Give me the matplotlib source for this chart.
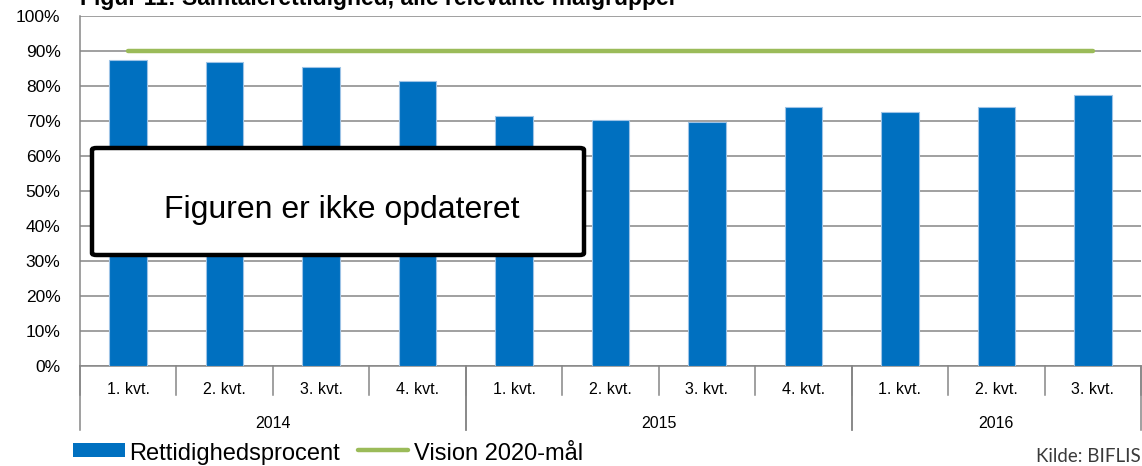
import numpy as np
import matplotlib.pyplot as plt
from matplotlib.patches import Rectangle, FancyBboxPatch
from matplotlib.lines import Line2D
import matplotlib.transforms as mtransforms

plt.rcParams['font.family'] = ['Liberation Sans', 'DejaVu Sans']

# data
quarters = ['1. kvt.', '2. kvt.', '3. kvt.', '4. kvt.',
            '1. kvt.', '2. kvt.', '3. kvt.', '4. kvt.',
            '1. kvt.', '2. kvt.', '3. kvt.']
years = ['2014', '2015', '2016']
year_counts = [4, 4, 3]
rettidighed = [87.5, 86.9, 85.3, 81.5, 71.4, 70.4, 69.8, 74.1, 72.5, 74.1, 77.4]
vision_2020 = [90] * len(quarters)

W, H = 1142, 466
fig = plt.figure(figsize=(W / 100, H / 100), dpi=100)

def fx(px):
    return px / W

def fy(py):
    return 1 - py / H

ax = fig.add_axes([fx(80), fy(366), fx(1141) - fx(80), fy(16) - fy(366)])

x = np.arange(len(quarters))
ax.bar(x, rettidighed, width=0.39, color='#0070C0', edgecolor='#9DC3E6',
       linewidth=0.8, zorder=3)
ax.plot(x, vision_2020, color='#9BBB59', lw=3.2, solid_capstyle='round', zorder=4)

ax.set_xlim(-0.5, len(quarters) - 0.5)
ax.set_ylim(0, 100)
ax.set_yticks(np.arange(0, 101, 10))
ax.set_yticklabels([f'{v}%' for v in range(0, 101, 10)], fontsize=12.5)
ax.tick_params(axis='y', length=0, pad=14)
ax.set_xticks([])
ax.grid(axis='y', color='#868686', lw=1.1, zorder=0)
for s in ['top', 'right']:
    ax.spines[s].set_visible(False)
ax.spines['left'].set_color('#868686')
ax.spines['left'].set_linewidth(1.1)
ax.spines['bottom'].set_color('#868686')
ax.spines['bottom'].set_linewidth(1.1)

# category axis: quarters and years
trans = mtransforms.blended_transform_factory(ax.transData, ax.transAxes)
ah = 350.0
for i, q in enumerate(quarters):
    ax.text(i, -23 / ah, q, transform=trans, ha='center', va='center', fontsize=11.5)
for b in np.arange(-0.5, len(quarters), 1.0):
    ax.add_line(Line2D([b, b], [0, -29 / ah], transform=trans, color='#868686',
                       lw=1.1, clip_on=False))
start = 0
for yr, n in zip(years, year_counts):
    ax.text(start + (n - 1) / 2, -57 / ah, yr, transform=trans, ha='center',
            va='center', fontsize=11.5)
    for b in [start - 0.5, start + n - 0.5]:
        ax.add_line(Line2D([b, b], [0, -64 / ah], transform=trans, color='#868686',
                           lw=1.1, clip_on=False))
    start += n

# title (cut at top as in the source)
fig.text(fx(80), fy(5), 'Figur 11: Samtalerettidighed, alle relevante målgrupper',
         fontsize=16.5, fontweight='bold', va='baseline', ha='left')

# "not updated" box
box = FancyBboxPatch((fx(92), fy(255)), fx(584) - fx(92), fy(148) - fy(255),
                     boxstyle='round,pad=0,rounding_size=0.004',
                     transform=fig.transFigure, facecolor='white',
                     edgecolor='black', lw=3.2, zorder=10)
fig.add_artist(box)
fig.text(fx(342), fy(218), 'Figuren er ikke opdateret', fontsize=23,
         ha='center', va='baseline', zorder=11)

# legend
fig.add_artist(Rectangle((fx(73), fy(457)), fx(125) - fx(73), fy(443) - fy(457),
                         transform=fig.transFigure, facecolor='#0070C0',
                         edgecolor='none'))
fig.text(fx(129), fy(460), 'Rettidighedsprocent', fontsize=17, va='baseline')
fig.add_artist(Line2D([fx(358), fx(408)], [fy(450), fy(450)], transform=fig.transFigure,
                      color='#9BBB59', lw=3.2, solid_capstyle='round'))
fig.text(fx(414), fy(460), 'Vision 2020-mål', fontsize=17, va='baseline')

fig.text(fx(1141), fy(462), 'Kilde: BIFLIS', fontsize=13.5, ha='right', va='baseline',
         color='#3a3a3a', family=['Lato', 'DejaVu Sans'])

fig.savefig('out.png', dpi=100)
